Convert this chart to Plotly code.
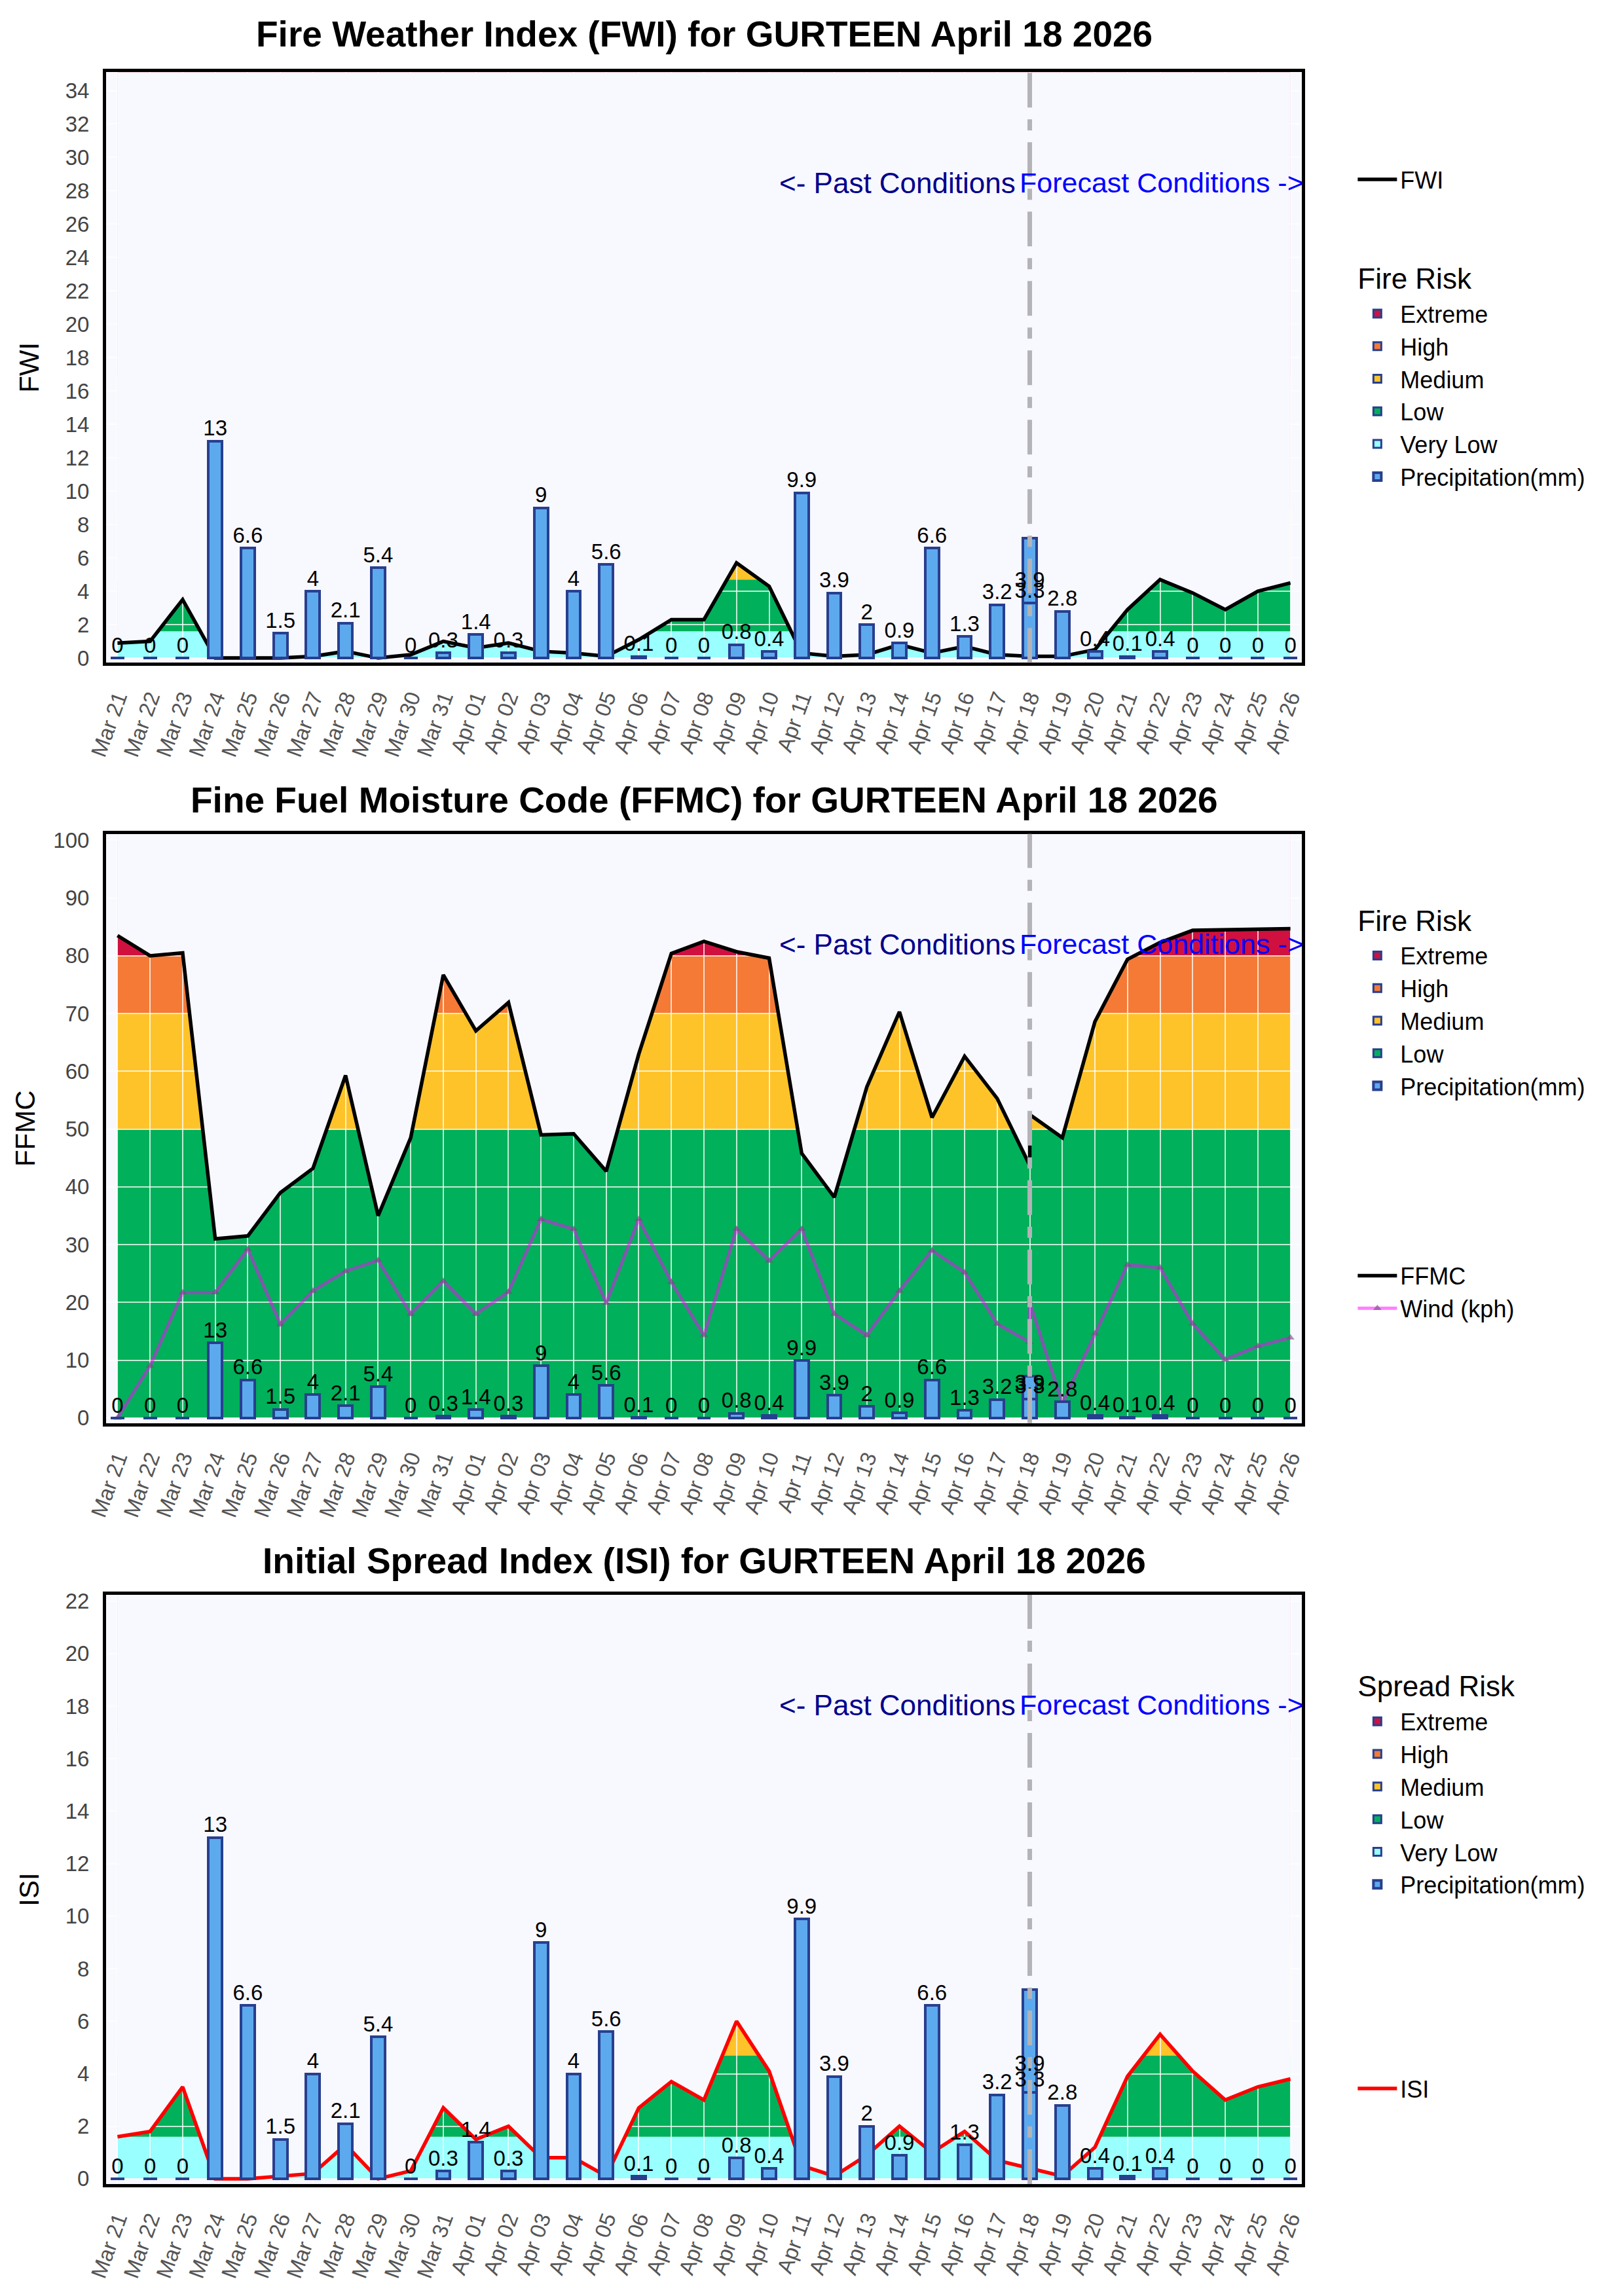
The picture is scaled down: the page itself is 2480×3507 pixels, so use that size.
import plotly.graph_objects as go

# ---------------- data ----------------
dates = ["Mar 21", "Mar 22", "Mar 23", "Mar 24", "Mar 25", "Mar 26", "Mar 27", "Mar 28",
         "Mar 29", "Mar 30", "Mar 31", "Apr 01", "Apr 02", "Apr 03", "Apr 04", "Apr 05",
         "Apr 06", "Apr 07", "Apr 08", "Apr 09", "Apr 10", "Apr 11", "Apr 12", "Apr 13",
         "Apr 14", "Apr 15", "Apr 16", "Apr 17", "Apr 18", "Apr 19", "Apr 20", "Apr 21",
         "Apr 22", "Apr 23", "Apr 24", "Apr 25", "Apr 26"]
today = "Apr 18"
past_dates = dates[:dates.index(today) + 1]
forecast_dates = dates[dates.index(today):]

precip_past = [0, 0, 0, 13, 6.6, 1.5, 4, 2.1, 5.4, 0, 0.3, 1.4, 0.3, 9, 4, 5.6, 0.1, 0, 0,
               0.8, 0.4, 9.9, 3.9, 2, 0.9, 6.6, 1.3, 3.2, 3.3]
precip_forecast = [3.9, 2.8, 0.4, 0.1, 0.4, 0, 0, 0, 0]

fwi_past = [0.9, 1.0, 3.5, 0.0, 0.0, 0.0, 0.1, 0.4, 0.0, 0.2, 1.0, 0.6, 0.9, 0.4, 0.3, 0.1,
            1.1, 2.3, 2.3, 5.7, 4.3, 0.3, 0.1, 0.2, 0.8, 0.3, 0.7, 0.2, 0.1]
fwi_forecast = [0.1, 0.1, 0.5, 2.9, 4.7, 3.9, 2.9, 4.0, 4.5]

ffmc_past = [83.5, 80.0, 80.5, 31.0, 31.5, 39.0, 43.2, 59.3, 35.0, 48.5, 76.7, 67.0, 71.9,
             49.0, 49.2, 42.7, 63.0, 80.4, 82.5, 80.7, 79.6, 45.8, 38.2, 57.3, 70.3, 52.0,
             62.6, 55.3, 43.7]
ffmc_forecast = [52.5, 48.5, 68.6, 79.4, 82.3, 84.4, 84.5, 84.7, 84.7]

wind_past = [0, 9.0, 21.7, 21.7, 29.2, 16.2, 22.0, 25.4, 27.3, 18.0, 23.7, 18.0, 21.8, 34.4,
             32.7, 19.9, 34.4, 23.5, 14.3, 32.7, 27.2, 32.7, 18.0, 14.3, 22.0, 29.0, 25.2,
             16.3, 13.1]
wind_forecast = [20.0, 2.5, 14.6, 26.5, 26.0, 16.3, 10.1, 12.4, 13.9]

isi_past = [1.6, 1.8, 3.5, 0.0, 0.0, 0.1, 0.2, 1.3, 0.0, 0.3, 2.7, 1.5, 2.0, 0.8, 0.8, 0.1,
            2.7, 3.7, 3.0, 6.0, 4.1, 0.5, 0.1, 0.9, 2.0, 1.0, 1.8, 0.7, 0.4]
isi_forecast = [0.4, 0.1, 1.2, 3.9, 5.5, 4.1, 3.0, 3.5, 3.8]

# risk classes (name, lower bound of class)
fwi_class_names = ["Very Low", "Low", "Medium", "High", "Extreme"]
fwi_class_floors = [0, 1.6, 4.7, 9.0, 17.0]
ffmc_class_names = ["Low", "Medium", "High", "Extreme"]
ffmc_class_floors = [0, 50, 70, 80]
isi_class_names = ["Very Low", "Low", "Medium", "High", "Extreme"]
isi_class_floors = [0, 1.6, 4.7, 9.0, 17.0]

# ---------------- style ----------------
FONT = "Liberation Sans, Arial, Helvetica, sans-serif"
BG = "#F8F8FF"
GRID = "rgba(255,255,255,0.75)"
RISK_COLORS = {"Extreme": "#D0103F", "High": "#F47A36", "Medium": "#FFC32A",
               "Low": "#00B05A", "Very Low": "#99FFFF"}
PRECIP_COLOR = "#5DA9EE"
OUTLINE = "#283F8E"

panels = [
    dict(title="Fire Weather Index (FWI) for GURTEEN April 18 2026", ytitle="FWI",
         name="FWI", past=fwi_past, fore=fwi_forecast, color="black",
         classes=fwi_class_names, floors=fwi_class_floors, group="Fire Risk",
         yrange=[-0.28, 35.1], dtick=2, domain=[0.7123, 0.9709], legend_y=0.9326,
         risk_first=False, wind=False, gap=95, standoff=28, title_shift=58),
    dict(title="Fine Fuel Moisture Code (FFMC) for GURTEEN April 18 2026", ytitle="FFMC",
         name="FFMC", past=ffmc_past, fore=ffmc_forecast, color="black",
         classes=ffmc_class_names, floors=ffmc_class_floors, group="Fire Risk",
         yrange=[-0.9, 101.1], dtick=10, domain=[0.3792, 0.6373], legend_y=0.6099,
         risk_first=True, wind=True, gap=240, standoff=16, title_shift=52),
    dict(title="Initial Spread Index (ISI) for GURTEEN April 18 2026", ytitle="ISI",
         name="ISI", past=isi_past, fore=isi_forecast, color="#FF0000",
         classes=isi_class_names, floors=isi_class_floors, group="Spread Risk",
         yrange=[-0.2, 22.24], dtick=2, domain=[0.0459, 0.3040], legend_y=0.2744,
         risk_first=True, wind=False, gap=262, standoff=28, title_shift=52),
]

fig = go.Figure()
shapes = []
annotations = []
layout = {}

x_all = past_dates + forecast_dates
precip_all = precip_past + precip_forecast
today_idx = dates.index(today)

for i, p in enumerate(panels, start=1):
    xa = "x" if i == 1 else f"x{i}"
    ya = "y" if i == 1 else f"y{i}"
    yo = f"y{i + 3}"
    leg = "legend" if i == 1 else f"legend{i}"
    top = p["yrange"][1]
    y_all = p["past"] + p["fore"]

    def add_risk():
        for k, cname in enumerate(reversed(p["classes"])):
            kw = dict(legendgrouptitle=dict(text=p["group"])) if k == 0 else {}
            fig.add_trace(go.Bar(
                x=[None], y=[None], name=cname,
                marker=dict(color=RISK_COLORS[cname], line=dict(color=OUTLINE, width=3)),
                xaxis=xa, yaxis=yo, legend=leg, legendgroup=f"risk{i}",
                hoverinfo="skip", **kw))
        fig.add_trace(go.Bar(
            x=past_dates, y=precip_past, name="Precipitation(mm)", width=0.42,
            marker=dict(color=PRECIP_COLOR, line=dict(color=OUTLINE, width=4)),
            xaxis=xa, yaxis=yo, legend=leg, legendgroup=f"risk{i}"))
        fig.add_trace(go.Bar(
            x=forecast_dates, y=precip_forecast, name="Precipitation(mm)", width=0.42,
            marker=dict(color=PRECIP_COLOR, line=dict(color=OUTLINE, width=4)),
            xaxis=xa, yaxis=yo, legend=leg, legendgroup=f"risk{i}", showlegend=False))
        fig.add_trace(go.Scatter(
            x=x_all, y=precip_all, mode="text", text=[f"{v:g}" for v in precip_all],
            textposition="top center", textfont=dict(size=33, color="black", family=FONT),
            xaxis=xa, yaxis=yo, showlegend=False, hoverinfo="skip", cliponaxis=False))

    def add_lines():
        # mask: hides the class bands above the index line
        fig.add_trace(go.Scatter(
            x=x_all, y=y_all, mode="lines", line=dict(width=0, color=BG),
            xaxis=xa, yaxis=ya, showlegend=False, hoverinfo="skip"))
        fig.add_trace(go.Scatter(
            x=x_all, y=[top] * len(x_all), mode="lines", line=dict(width=0, color=BG),
            fill="tonexty", fillcolor=BG, xaxis=xa, yaxis=ya, showlegend=False,
            hoverinfo="skip"))
        fig.add_trace(go.Scatter(
            x=x_all, y=y_all, mode="lines", name=p["name"],
            line=dict(color=p["color"], width=5.5), xaxis=xa, yaxis=ya,
            legend=leg, legendgroup=f"lines{i}"))
        if p["wind"]:
            fig.add_trace(go.Scatter(
                x=x_all, y=wind_past + wind_forecast, mode="lines+markers",
                name="Wind (kph)",
                line=dict(color="rgba(255,0,255,0.5)", width=5),
                marker=dict(symbol="triangle-up", size=11, color="rgba(110,80,120,0.6)"),
                xaxis=xa, yaxis=ya, legend=leg, legendgroup=f"lines{i}"))

    if p["risk_first"]:
        add_risk()
        add_lines()
    else:
        add_lines()
        add_risk()

    # class bands
    for idx, cname in enumerate(p["classes"]):
        lo = p["floors"][idx]
        hi = p["floors"][idx + 1] if idx + 1 < len(p["floors"]) else top
        shapes.append(dict(type="rect", xref=xa, yref=ya, x0=0, x1=len(dates) - 1,
                           y0=lo, y1=hi, fillcolor=RISK_COLORS[cname],
                           line=dict(width=0), layer="below"))
    # today marker
    shapes.append(dict(type="line", xref=xa, yref=f"{ya} domain", x0=today_idx,
                       x1=today_idx, y0=0, y1=1, layer="above",
                       line=dict(color="#B3B3B8", width=7, dash="53px,18px,17px,18px")))

    annotations.append(dict(text=f"<b>{p['title']}</b>", xref=f"{xa} domain", x=0.5,
                            yref=f"{ya} domain", y=1, yshift=p["title_shift"],
                            yanchor="middle", xanchor="center", showarrow=False,
                            font=dict(size=55, color="black", family=FONT)))
    annotations.append(dict(text="<- Past Conditions", xref=xa, x=today, xanchor="right",
                            xshift=-20, yref=f"{ya} domain", y=0.813, yanchor="middle",
                            showarrow=False, font=dict(size=44, color="#00008B", family=FONT)))
    annotations.append(dict(text="Forecast Conditions ->", xref=xa, x=today, xanchor="left",
                            xshift=-18, yref=f"{ya} domain", y=0.813, yanchor="middle",
                            showarrow=False, font=dict(size=43, color="#0000FF", family=FONT)))

    xkey = "xaxis" if i == 1 else f"xaxis{i}"
    ykey = "yaxis" if i == 1 else f"yaxis{i}"
    layout[xkey] = dict(domain=[0, 1], anchor=ya, type="category", categoryorder="array",
                        categoryarray=dates, range=[-0.35, len(dates) - 1 + 0.35],
                        tickmode="linear", dtick=1, tickangle=-70,
                        tickfont=dict(size=33, color="#555555", family=FONT),
                        ticklabelstandoff=16, showgrid=True, gridcolor=GRID, gridwidth=2,
                        showline=True, mirror=True, linecolor="black", linewidth=5,
                        zeroline=False)
    layout[ykey] = dict(domain=p["domain"], anchor=xa, range=p["yrange"], tick0=0,
                        dtick=p["dtick"], tickfont=dict(size=33, color="#444444", family=FONT),
                        ticklabelstandoff=14, showgrid=True, gridcolor=GRID, gridwidth=2,
                        showline=True, mirror=True, linecolor="black", linewidth=5,
                        zeroline=False,
                        title=dict(text=p["ytitle"], standoff=p["standoff"],
                                   font=dict(size=42, color="black", family=FONT)))
    layout[f"yaxis{i + 3}"] = dict(overlaying=ya, anchor=xa, range=p["yrange"],
                                   visible=False, showgrid=False, zeroline=False)
    layout[leg] = dict(x=1.044, xanchor="left", y=p["legend_y"], yanchor="top",
                       font=dict(size=36, color="black", family=FONT),
                       grouptitlefont=dict(size=44, color="black", family=FONT),
                       tracegroupgap=p["gap"], traceorder="grouped",
                       bgcolor="rgba(0,0,0,0)", itemwidth=60)

fig.update_layout(
    width=2480, height=3507, autosize=False,
    margin=dict(l=162, r=492, t=0, b=0),
    paper_bgcolor="white", plot_bgcolor=BG,
    font=dict(family=FONT, color="black"),
    barmode="stack", hovermode=False,
    shapes=shapes, annotations=annotations,
    **layout,
)

fig.write_html("out.html", post_script="document.body.style.margin='0';",
               config={"displayModeBar": False})
